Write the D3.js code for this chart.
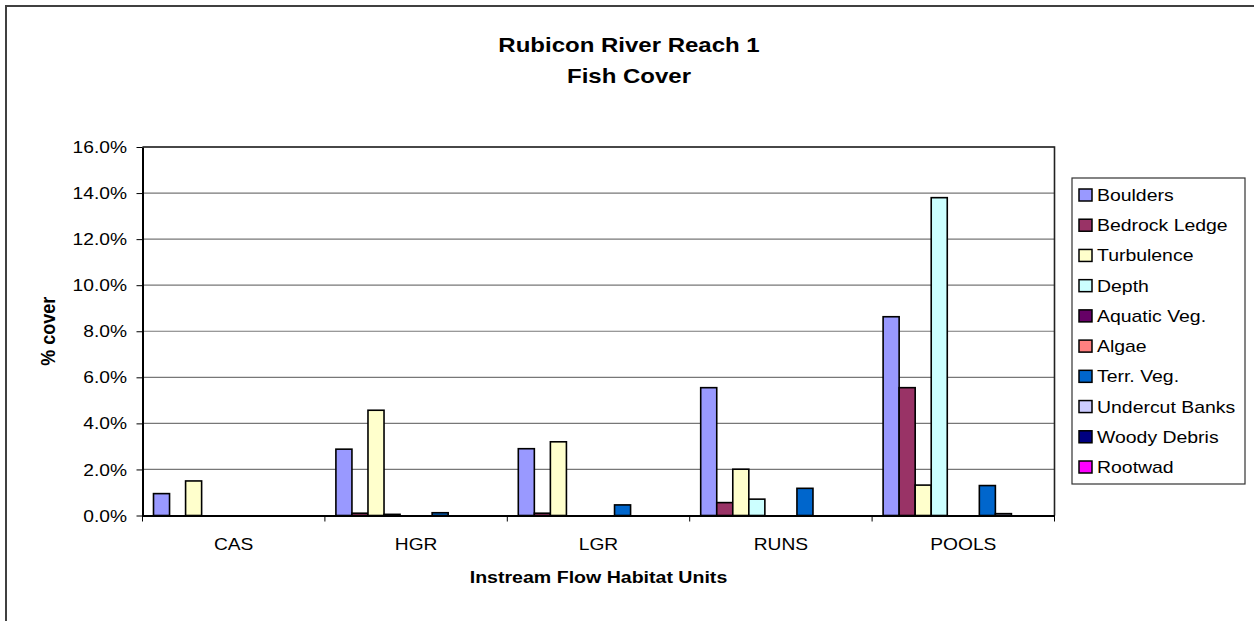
<!DOCTYPE html>
<html>
<head>
<meta charset="utf-8">
<script src="https://cdn.jsdelivr.net/npm/d3@7"></script>
<style>
  html, body { margin: 0; padding: 0; background: #fff; }
  svg { display: block; font-family: "Liberation Sans", Arial, sans-serif; }
</style>
</head>
<body>
<svg id="chart" width="1254" height="621"></svg>
<script>
const categories = ["CAS", "HGR", "LGR", "RUNS", "POOLS"];
const seriesNames = ["Boulders", "Bedrock Ledge", "Turbulence", "Depth", "Aquatic Veg.", "Algae", "Terr. Veg.", "Undercut Banks", "Woody Debris", "Rootwad"];
const seriesColors = ["#9999FF", "#993366", "#FFFFCC", "#CCFFFF", "#660066", "#FF8080", "#0066CC", "#CCCCFF", "#000080", "#FF00FF"];
// values per series, in category order (fraction of cover)
const boulders      = [0.0095, 0.0288, 0.0290, 0.0555, 0.0863];
const bedrockLedge  = [0,      0.0010, 0.0010, 0.0056, 0.0555];
const turbulence    = [0.0150, 0.0457, 0.0320, 0.0201, 0.0132];
const depth         = [0,      0.0005, 0,      0.0071, 0.1380];
const aquaticVeg    = [0,      0,      0,      0,      0];
const algae         = [0,      0,      0,      0,      0];
const terrVeg       = [0,      0.0012, 0.0046, 0.0118, 0.0130];
const undercutBanks = [0,      0,      0,      0,      0.0008];
const woodyDebris   = [0,      0,      0,      0,      0];
const rootwad       = [0,      0,      0,      0,      0];
const yTicks = [0, 0.02, 0.04, 0.06, 0.08, 0.10, 0.12, 0.14, 0.16];
const titleLines = ["Rubicon River Reach 1", "Fish Cover"];
const xTitle = "Instream Flow Habitat Units";
const yTitle = "% cover";

const seriesValues = [boulders, bedrockLedge, turbulence, depth, aquaticVeg, algae, terrVeg, undercutBanks, woodyDebris, rootwad];

const S = 1.2; // horizontal text stretch
const svg = d3.select("#chart");

// outer frame
svg.append("rect").attr("x", 6).attr("y", 6).attr("width", 1400).attr("height", 800)
  .attr("fill", "none").attr("stroke", "#404040").attr("stroke-width", 2);

const plot = {left: 142.5, right: 1054.5, top: 147, bottom: 515.5};

const x = d3.scaleBand().domain(categories).range([plot.left, plot.right]).paddingInner(0).paddingOuter(0);
const xs = d3.scaleBand().domain(seriesNames).range([0, x.bandwidth()]).paddingInner(0).paddingOuter(0.686);
const y = d3.scaleLinear().domain([0, 0.16]).range([plot.bottom, plot.top]);

function sText(g, tx, ty, txt, size, weight, anchor) {
  return g.append("text")
    .attr("transform", `translate(${tx},${ty}) scale(${S},1)`)
    .attr("text-anchor", anchor || "middle")
    .attr("font-size", size)
    .attr("font-weight", weight || "normal")
    .attr("fill", "#000")
    .text(txt);
}

// gridlines
svg.append("g").selectAll("line").data(yTicks.slice(1)).join("line")
  .attr("x1", plot.left).attr("x2", plot.right)
  .attr("y1", d => y(d)).attr("y2", d => y(d))
  .attr("stroke", "#777").attr("stroke-width", 1.2);

// plot border (top & right)
svg.append("path")
  .attr("d", `M${plot.left},${plot.top}H${plot.right}V${plot.bottom}`)
  .attr("fill", "none").attr("stroke", "#222").attr("stroke-width", 1.6);

// bars
const flat = [];
categories.forEach((c, ci) => {
  seriesNames.forEach((s, si) => {
    flat.push({c, s, si, v: seriesValues[si][ci]});
  });
});
svg.append("g").selectAll("rect").data(flat.filter(d => d.v > 0)).join("rect")
  .attr("x", d => x(d.c) + xs(d.s))
  .attr("y", d => y(d.v))
  .attr("width", xs.bandwidth())
  .attr("height", d => y(0) - y(d.v))
  .attr("fill", d => seriesColors[d.si])
  .attr("stroke", "#000").attr("stroke-width", 1.6);

// y axis
const yAxis = d3.axisLeft(y).tickValues(yTicks).tickFormat(d3.format(".1%")).tickSize(6).tickSizeOuter(0);
const gy = svg.append("g").attr("transform", `translate(${plot.left},0)`).call(yAxis);
gy.select(".domain").attr("stroke", "#000").attr("stroke-width", 2);
gy.selectAll(".tick line").attr("stroke", "#000").attr("stroke-width", 1);
gy.selectAll(".tick text")
  .attr("x", 0).attr("dy", "0.35em")
  .attr("transform", `translate(-15.5,0) scale(${S},1)`)
  .attr("font-size", 16).attr("font-family", "Liberation Sans, Arial, sans-serif").attr("fill", "#000");

// x axis (labels at centres)
const xAxis = d3.axisBottom(x).tickSize(0).tickSizeOuter(0);
const gx = svg.append("g").attr("transform", `translate(0,${plot.bottom})`).call(xAxis);
gx.select(".domain").attr("stroke", "#000").attr("stroke-width", 2);
gx.selectAll(".tick text")
  .attr("y", 0).attr("dy", 0)
  .attr("transform", `translate(0,34.5) scale(${S},1)`)
  .attr("font-size", 16).attr("font-family", "Liberation Sans, Arial, sans-serif").attr("fill", "#000");

// category boundary ticks
const bounds = categories.map(c => x(c)).concat([x.range()[1]]);
svg.append("g").selectAll("line").data(bounds).join("line")
  .attr("x1", d => d).attr("x2", d => d)
  .attr("y1", plot.bottom).attr("y2", plot.bottom + 6)
  .attr("stroke", "#000").attr("stroke-width", 1);

// titles
sText(svg, 629, 52, titleLines[0], 20, "bold");
sText(svg, 629, 83, titleLines[1], 20, "bold");
sText(svg, (plot.left + plot.right) / 2, 583, xTitle, 16.3, "bold");
svg.append("text")
  .attr("transform", `translate(55,${(plot.top + plot.bottom) / 2}) scale(1.15,1) rotate(-90)`)
  .attr("text-anchor", "middle").attr("font-size", 18).attr("font-weight", "bold")
  .text(yTitle);

// legend
const leg = svg.append("g");
leg.append("rect").attr("x", 1072).attr("y", 178).attr("width", 173).attr("height", 306)
  .attr("fill", "#fff").attr("stroke", "#333").attr("stroke-width", 1.2);
const legY = d3.scalePoint().domain(seriesNames).range([195, 467]);
seriesNames.forEach((s, i) => {
  leg.append("rect").attr("x", 1079).attr("y", legY(s) - 6).attr("width", 13).attr("height", 12)
    .attr("fill", seriesColors[i]).attr("stroke", "#000").attr("stroke-width", 1.5);
  sText(leg, 1097, legY(s) + 6, s, 16.2, "normal", "start");
});
</script>
</body>
</html>
